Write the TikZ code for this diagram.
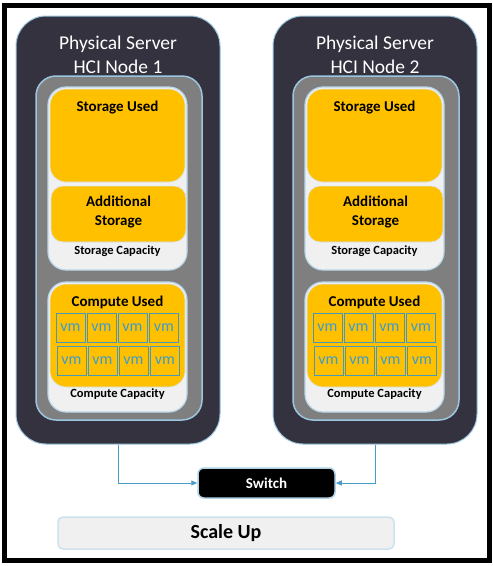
\documentclass[tikz,border=0pt]{standalone}
\usepackage{fontspec}
\setmainfont{Carlito}
\usetikzlibrary{arrows.meta}
\definecolor{navy}{HTML}{34323F}
\definecolor{ltblue}{HTML}{9CC5E0}
\definecolor{midgray}{HTML}{7F7F7F}
\definecolor{pale}{HTML}{F0F0F0}
\definecolor{gold}{HTML}{FFC000}
\definecolor{vmblue}{HTML}{3A9BD0}
\definecolor{vmedge}{HTML}{4A98B8}
\definecolor{wire}{HTML}{4A9CC8}
\tikzset{
  server/.style={draw=ltblue, line width=1pt, fill=navy, rounded corners=30pt, minimum width=204pt, minimum height=428pt, inner sep=0pt},
  graybox/.style={draw=ltblue, line width=1.5pt, fill=midgray, rounded corners=20pt, minimum width=166pt, minimum height=344pt, inner sep=0pt},
  capbox/.style={draw=ltblue!70, line width=1.2pt, fill=pale, rounded corners=18pt, minimum width=139pt, inner sep=0pt},
  usedbox/.style={fill=gold, draw=ltblue!40, line width=0.6pt, minimum width=135pt, inner sep=0pt},
  vmbox/.style={draw=vmedge, line width=1pt, minimum width=29pt, minimum height=29pt, inner sep=0pt, text=vmblue, font=\fontsize{16}{18}\selectfont},
  title/.style={text=white, font=\fontsize{19.5}{22}\selectfont, inner sep=0pt},
  lbl/.style={font=\bfseries\fontsize{15}{19}\selectfont, inner sep=0pt, align=center},
  caplbl/.style={font=\bfseries\fontsize{12.5}{14}\selectfont, inner sep=0pt},
  switchbox/.style={draw=ltblue!80, line width=1.5pt, fill=black, rounded corners=6pt, minimum width=137pt, minimum height=30pt, text=white, font=\bfseries\fontsize{15}{17}\selectfont},
  scalebox/.style={draw=ltblue!50, line width=1.5pt, fill=pale, rounded corners=5pt, minimum width=336pt, minimum height=32pt, font=\bfseries\fontsize{20}{23}\selectfont},
  wirestyle/.style={draw=wire, line width=0.8pt, -{Triangle[length=6pt,width=5pt]}}
}
\begin{document}
\begin{tikzpicture}[x=1pt,y=-1pt]
\useasboundingbox (0,0) rectangle (493,566);
\fill[white] (0,0) rectangle (493,566);
\draw[black, line width=5pt] (4.5,5.5) rectangle (489.5,560.5);
\foreach \i/\dx in {1/0,2/257}{
  \begin{scope}[shift={(\dx,0)}]
  \node[server] (s\i) at (118,230) {};
  \node[title] (t\i a) at (118,44) {Physical Server};
  \node[title] (t\i b) at (118,67) {HCI Node \i};
  \node[graybox] (g\i) at (119,248) {};
  \node[capbox, minimum height=183pt] (sc\i) at (117.5,178.5) {};
  \node[usedbox, rounded corners=16pt, minimum height=93pt] (su\i) at (117.5,135.5) {};
  \node[lbl] (sul\i) at (117.5,107.5) {Storage Used};
  \node[usedbox, rounded corners=12pt, minimum height=56pt] (as\i) at (118.5,214) {};
  \node[lbl] (asl\i) at (118.5,211.5) {Additional\\Storage};
  \node[caplbl] (scl\i) at (117.5,251.5) {Storage Capacity};
  \node[capbox, minimum height=130pt] (cc\i) at (117.5,347) {};
  \node[usedbox, rounded corners=16pt, minimum height=103pt] (cu\i) at (117.5,335.5) {};
  \node[lbl] (cul\i) at (117.5,302) {Compute Used};
  \foreach \c/\cx in {1/70.5,2/101.5,3/132.5,4/164}{
    \node[vmbox] (vm\i a\c) at (\cx,327.5) {vm};
    \node[vmbox] (vm\i b\c) at (\cx+1,361) {vm};
  }
  \node[caplbl] (ccl\i) at (117.5,394) {Compute Capacity};
  \end{scope}
}
\node[switchbox] (sw) at (266.5,483) {Switch};
\draw[wirestyle] (s1.south) |- (sw.west);
\draw[wirestyle] (s2.south) |- (sw.east);
\node[scalebox] (scale) at (226,533) {Scale Up};
\end{tikzpicture}
\end{document}
